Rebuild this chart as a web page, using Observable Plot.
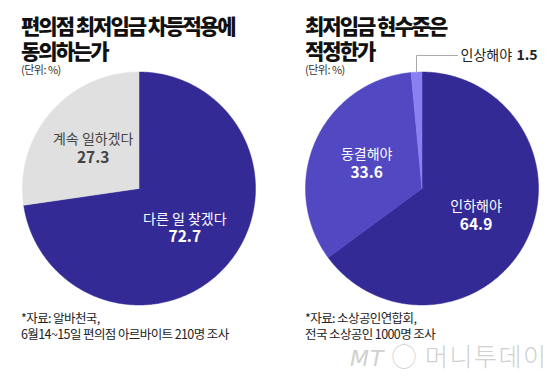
<!DOCTYPE html>
<html><head><meta charset="utf-8">
<script src="https://cdn.jsdelivr.net/npm/d3@7"></script>
<script src="https://cdn.jsdelivr.net/npm/@observablehq/plot@0.6"></script>
<style>
html,body{margin:0;padding:0;background:#fff;}
#wrap{position:relative;width:560px;height:380px;overflow:hidden;font-family:"Noto Sans CJK KR","Noto Sans",sans-serif;}
.panel{position:absolute;top:0;width:280px;height:380px;}
.panel svg{position:absolute;left:0;top:0;}
.title{position:absolute;margin:0;font-size:21px;line-height:21px;font-weight:900;color:#111;letter-spacing:-2px;white-space:nowrap;}
.unit{position:absolute;font-size:11px;line-height:10px;color:#333;letter-spacing:-0.5px;}
.note{position:absolute;font-size:12.5px;line-height:13px;color:#222;letter-spacing:-0.6px;white-space:nowrap;}
.logo{position:absolute;left:350px;top:344px;font-size:25px;line-height:22px;font-weight:300;color:#d0d0d0;letter-spacing:1.5px;white-space:nowrap;}
.logo i{font-family:"DejaVu Sans";font-size:22px;letter-spacing:1px;}
</style></head>
<body><div id="wrap">
<div class="panel" id="left"></div>
<div class="panel" id="right" style="left:280px"></div>
</div>
<script>
// ---- data ----
const leftTitle = ["편의점 최저임금 차등적용에", "동의하는가"];
const leftCategories = ["다른 일 찾겠다", "계속 일하겠다"];
const leftValues = [72.7, 27.3];
const leftNote = ["*자료: 알바천국,", "6월14~15일 편의점 아르바이트 210명 조사"];

const rightTitle = ["최저임금 현수준은", "적정한가"];
const rightCategories = ["인하해야", "동결해야", "인상해야"];
const rightValues = [64.9, 33.6, 1.5];
const rightNote = ["*자료: 소상공인연합회,", "전국 소상공인 1000명 조사"];

const unitLabel = "(단위: %)";

// ---- styles ----
const leftColors = ["#332a96", "#e0e0e0"];
const rightColors = ["#332a96", "#5148c2", "#8a80f2"];
const leftText = ["#ffffff", "#444444"];
const rightText = ["#ffffff", "#ffffff", "#222222"];

function pieParts(values, cats) {
  const arcs = d3.pie().sort(null).value(d => d)(values);
  const poly = [];
  arcs.forEach((p, i) => {
    poly.push({cat: cats[i], x: 0, y: 0});
    const n = Math.max(4, Math.ceil((p.endAngle - p.startAngle) / 0.01));
    for (let k = 0; k <= n; k++) {
      const a = p.startAngle + (p.endAngle - p.startAngle) * k / n;
      poly.push({cat: cats[i], x: Math.sin(a), y: Math.cos(a)});
    }
    poly.push({cat: cats[i], x: 0, y: 0});
  });
  return {arcs, poly};
}

function drawPie(el, cats, values, colors, textColors, cx, leader) {
  const {arcs, poly} = pieParts(values, cats);
  const R = 116.5, cy = 188;
  const labels = arcs.map((p, i) => {
    const mid = (p.startAngle + p.endAngle) / 2;
    const r = 0.52;
    return {cat: cats[i], v: values[i], x: r * Math.sin(mid), y: r * Math.cos(mid), c: textColors[i], mid};
  });
  const inside = leader ? labels.filter((d, i) => i < labels.length - 1) : labels;
  const marks = [
    Plot.line(poly, {x: "x", y: "y", z: "cat", fill: "cat", stroke: "cat", strokeWidth: 0.5, curve: "linear"}),
    Plot.text(inside, {x: "x", y: "y", text: "cat", fill: "c", dy: -9, fontSize: 14, letterSpacing: -0.5}),
    Plot.text(inside, {x: "x", y: "y", text: d => d.v.toFixed(1), fill: "c", dy: 9, fontSize: 15.5, fontWeight: "bold", letterSpacing: -0.5})
  ];
  if (leader) {
    const d = labels[labels.length - 1];
    const ex = Math.sin(d.mid), ey = Math.cos(d.mid);
    const ly = 1.142, lx = 0.305;
    const path = [{x: ex, y: ey}, {x: ex, y: ly}, {x: lx, y: ly}];
    marks.push(Plot.line(path, {x: "x", y: "y", stroke: "#aaaaaa", strokeWidth: 1}));
    marks.push(Plot.text([d], {x: () => lx, y: () => ly, text: "cat", dx: 3, textAnchor: "start", fill: "#222", fontSize: 14, letterSpacing: -0.6}));
    marks.push(Plot.text([d], {x: () => lx, y: () => ly, text: dd => dd.v.toFixed(1), dx: 59, textAnchor: "start", fill: "#222", fontSize: 14, fontWeight: "bold"}));
  }
  const chart = Plot.plot({
    width: 280, height: 380, margin: 0,
    style: {background: "transparent", overflow: "visible", fontFamily: "'Noto Sans CJK KR', sans-serif"},
    x: {domain: [-1, 1], range: [cx - R, cx + R], axis: null},
    y: {domain: [-1, 1], range: [cy + R, cy - R], axis: null},
    color: {domain: cats, range: colors},
    marks
  });
  el.appendChild(chart);
}

function addLines(el, cls, lines, left, top, step) {
  lines.forEach((t, i) => {
    const d = document.createElement("div");
    d.className = cls;
    d.style.left = left + "px";
    d.style.top = (top + i * step) + "px";
    d.textContent = t;
    el.appendChild(d);
  });
}

const L = document.getElementById("left");
const Rt = document.getElementById("right");
drawPie(L, leftCategories, leftValues, leftColors, leftText, 138.5, false);
drawPie(Rt, rightCategories, rightValues, rightColors, rightText, 141.5, true);
addLines(L, "title", leftTitle, 21, 15, 25);
addLines(Rt, "title", rightTitle, 25, 15, 25);
addLines(L, "unit", [unitLabel], 21, 64, 0);
addLines(Rt, "unit", [unitLabel], 25, 64, 0);
addLines(L, "note", leftNote, 21, 311, 16);
addLines(Rt, "note", rightNote, 25, 311, 16);
const logo = document.createElement("div");
logo.className = "logo";
logo.innerHTML = "<i>MT</i> ◯ 머니투데이";
document.getElementById("wrap").appendChild(logo);
</script>
</body></html>
